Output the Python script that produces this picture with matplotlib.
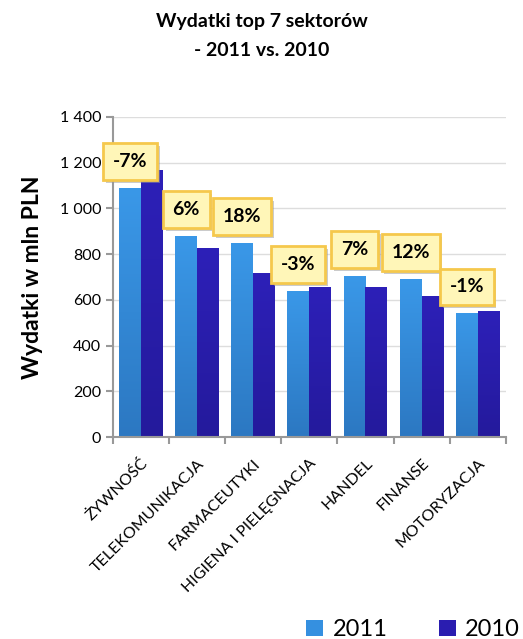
import numpy as np
import matplotlib
matplotlib.use("Agg")
import matplotlib.pyplot as plt
from matplotlib.colors import LinearSegmentedColormap
import matplotlib.patheffects as pe

plt.rcParams['font.family'] = ['Lato', 'DejaVu Sans']

sectors = ['ŻYWNOŚĆ', 'TELEKOMUNIKACJA', 'FARMACEUTYKI', 'HIGIENA I PIELĘGNACJA',
           'HANDEL', 'FINANSE', 'MOTORYZACJA']
spend_2011 = [1089, 879, 849, 639, 704, 691, 542]
spend_2010 = [1168, 827, 717, 656, 656, 617, 551]
change_labels = ['-7%', '6%', '18%', '-3%', '7%', '12%', '-1%']
yticks = [0, 200, 400, 600, 800, 1000, 1200, 1400]
ytick_labels = ['0', '200', '400', '600', '800', '1 000', '1 200', '1 400']

fig = plt.figure(figsize=(5.23, 6.39), dpi=100)
ax = fig.add_axes([0.216, 0.316, 0.751, 0.501])

x = np.arange(len(sectors))
w = 0.39
cmap11 = LinearSegmentedColormap.from_list('c11', ['#2c78c2', '#3a98e8'])
cmap10 = LinearSegmentedColormap.from_list('c10', ['#241a9c', '#2d20b8'])
grad = np.linspace(0, 1, 100).reshape(-1, 1)

b11 = ax.bar(x - w / 2, spend_2011, w, color='#3590e0', label='2011', zorder=2)
b10 = ax.bar(x + w / 2, spend_2010, w, color='#2a1db0', label='2010', zorder=2)
for bars, cm in ((b11, cmap11), (b10, cmap10)):
    for p in bars:
        x0, y0 = p.get_x(), p.get_y()
        im = ax.imshow(grad, extent=[x0, x0 + p.get_width(), y0, y0 + p.get_height()],
                       origin='lower', aspect='auto', cmap=cm, zorder=2.5)
        im.set_clip_path(p)

for i, lab in enumerate(change_labels):
    ax.annotate(lab, (x[i] - w / 2, spend_2011[i]), xytext=(0, 19),
                textcoords='offset points', ha='center', va='center',
                fontsize=14, fontweight='bold', color='black', zorder=5,
                bbox=dict(boxstyle='square,pad=0.5', fc='#fff6b8', ec='#f5c84c', lw=2,
                          path_effects=[pe.withSimplePatchShadow(offset=(2, -2),
                                                                 shadow_rgbFace='#999999',
                                                                 alpha=0.5)]))

ax.set_xlim(-0.5, len(sectors) - 0.5)
ax.set_ylim(0, 1400)
ax.set_yticks(yticks)
ax.set_yticklabels(ytick_labels, fontsize=11.5)
ax.yaxis.grid(True, color='#dddddd', lw=1, zorder=0)
ax.set_axisbelow(True)

ax.set_xticks(x)
ax.set_xticklabels(sectors, rotation=45, ha='right', va='top', rotation_mode='anchor',
                   fontsize=11.5)
ax.tick_params(axis='x', length=0, pad=14)
ax.set_xticks(np.arange(-0.5, len(sectors)), minor=True)
ax.tick_params(axis='x', which='minor', length=5, color='#999999', width=1.5)
ax.tick_params(axis='y', length=5, color='#999999', width=1.5, direction='out')

for s in ['top', 'right']:
    ax.spines[s].set_visible(False)
for s in ['left', 'bottom']:
    ax.spines[s].set_color('#999999')
    ax.spines[s].set_linewidth(1.5)

ax.set_ylabel('Wydatki w mln PLN', fontsize=16.5, fontweight='bold', labelpad=12)
fig.suptitle('Wydatki top 7 sektorów\n- 2011 vs. 2010', fontsize=14, fontweight='bold',
             y=0.98, linespacing=1.9)

fig.legend(handles=[b11, b10], labels=['2011', '2010'], loc='lower right',
           bbox_to_anchor=(1.035, -0.035), ncol=2, frameon=False, fontsize=17,
           handlelength=0.7, handleheight=0.7, columnspacing=2.2, handletextpad=0.4)

fig.savefig('out.png', dpi=100)
